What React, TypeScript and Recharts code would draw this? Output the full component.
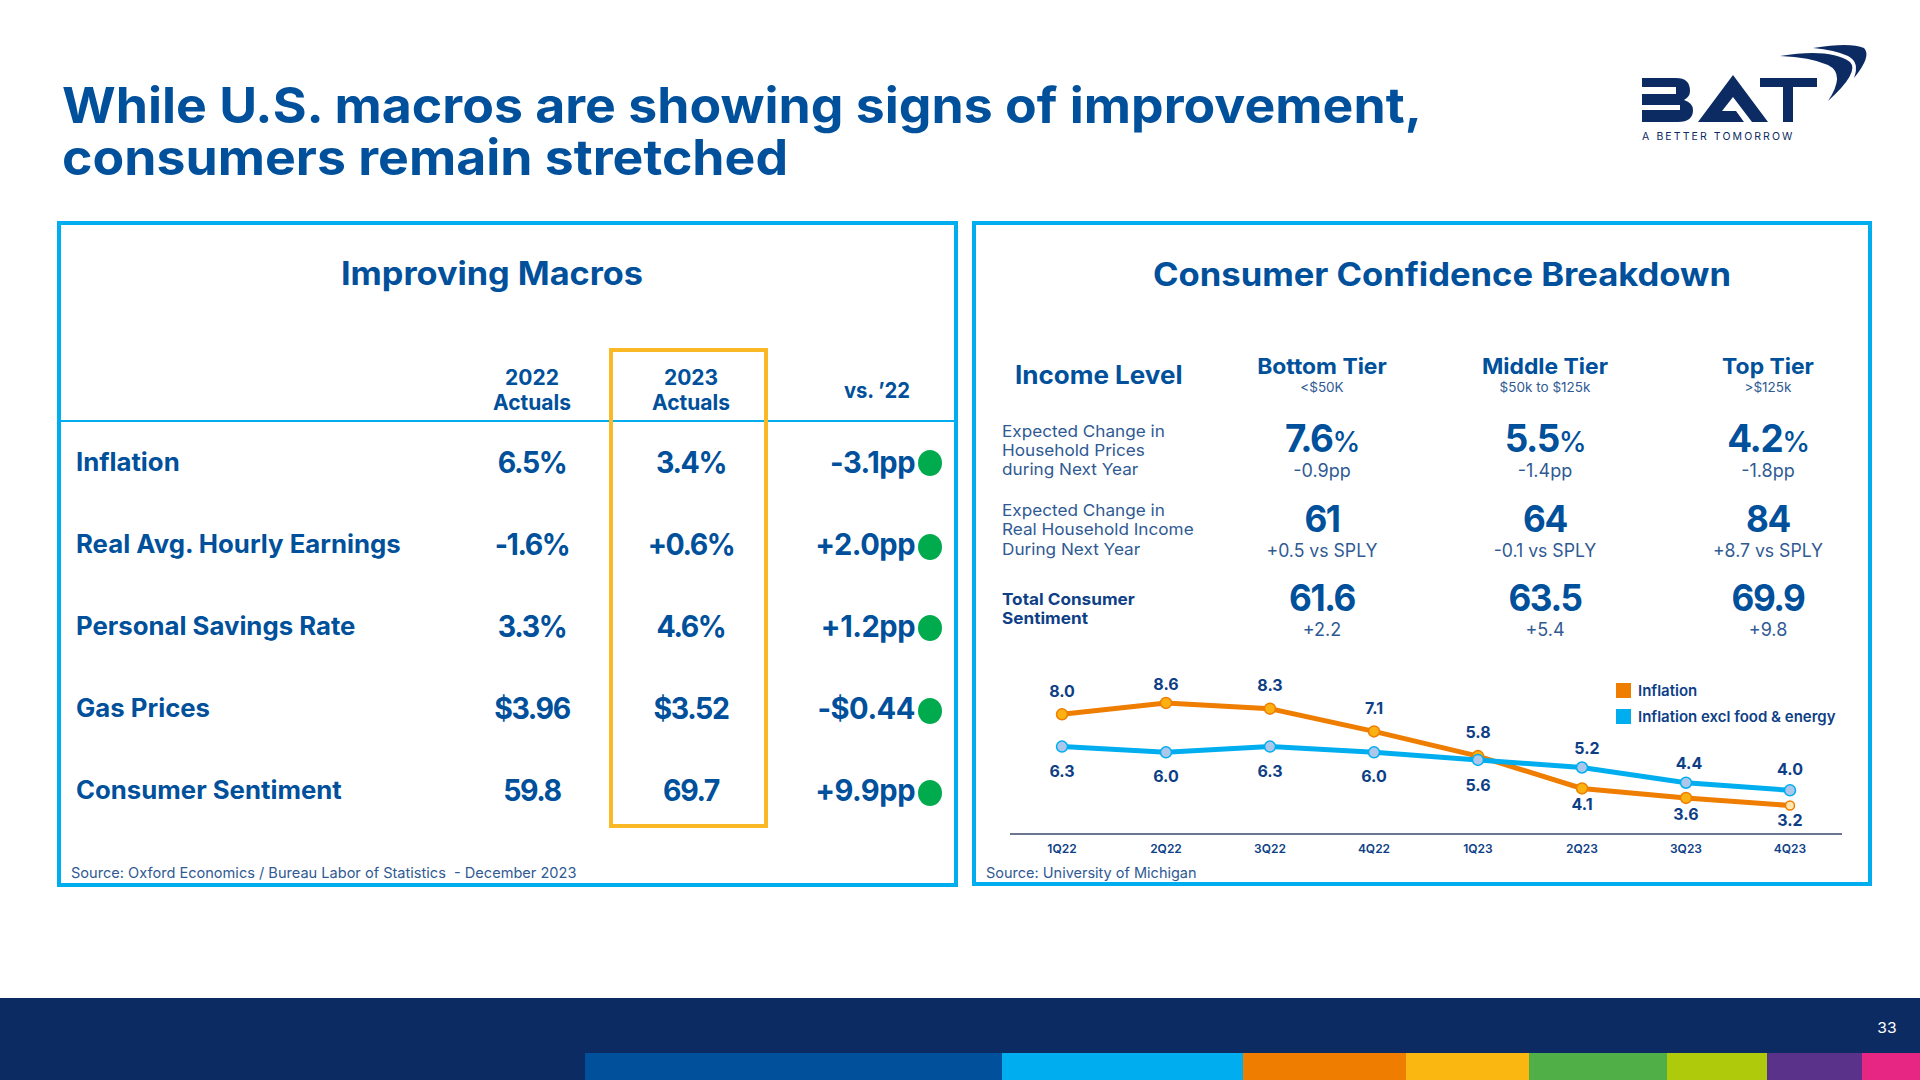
import React from "react";
import { LineChart, Line, XAxis, YAxis, LabelList, Legend } from "recharts";

const quarters = ["1Q22", "2Q22", "3Q22", "4Q22", "1Q23", "2Q23", "3Q23", "4Q23"];
const inflation = [8.0, 8.6, 8.3, 7.1, 5.8, 4.1, 3.6, 3.2];
const inflationCore = [6.3, 6.0, 6.3, 6.0, 5.6, 5.2, 4.4, 4.0];

const macroNames = ["Inflation", "Real Avg. Hourly Earnings", "Personal Savings Rate", "Gas Prices", "Consumer Sentiment"];
const actuals2022 = ["6.5%", "-1.6%", "3.3%", "$3.96", "59.8"];
const actuals2023 = ["3.4%", "+0.6%", "4.6%", "$3.52", "69.7"];
const versus = ["-3.1pp", "+2.0pp", "+1.2pp", "-$0.44", "+9.9pp"];

const tierNames = ["Bottom Tier", "Middle Tier", "Top Tier"];
const tierRanges = ["<$50K", "$50k to $125k", ">$125k"];
const priceExpect = ["7.6", "5.5", "4.2"];
const priceDelta = ["-0.9pp", "-1.4pp", "-1.8pp"];
const incomeExpect = ["61", "64", "84"];
const incomeDelta = ["+0.5 vs SPLY", "-0.1 vs SPLY", "+8.7 vs SPLY"];
const sentiment = ["61.6", "63.5", "69.9"];
const sentimentDelta = ["+2.2", "+5.4", "+9.8"];

const stripeColors = ["#00509B", "#00AEEF", "#EF7D00", "#FAB611", "#50AF47", "#AFCA0B", "#5A328A", "#E72582"];
const stripeEdges = [585, 1002, 1243, 1406, 1529, 1667, 1767, 1862, 1920];

const chartData = quarters.map((q, i) => ({ q, inflation: inflation[i], core: inflationCore[i] }));

const BLUE = "#00509B";
const NAVY = "#0D2B63";
const CYAN = "#00AEEF";
const ORANGE = "#EF7D00";
const SOFT = "#2F5A93";
const FONT = "Inter, 'Noto Sans', sans-serif";

type TProps = { x: number; y: number; s: number; w?: number; a?: "l" | "c" | "r"; c?: string; k?: number; ls?: number; children: React.ReactNode };
function T({ x, y, s, w = 700, a = "c", c = BLUE, k = 1.04, ls = 0, children }: TProps) {
  const tx = a === "l" ? "0" : a === "c" ? "-50%" : "-100%";
  const origin = a === "l" ? "left" : a === "c" ? "center" : "right";
  return (
    <div
      style={{
        position: "absolute",
        left: x,
        top: y,
        fontFamily: FONT,
        fontSize: s,
        fontWeight: w,
        color: c,
        lineHeight: 1,
        letterSpacing: ls,
        whiteSpace: "pre",
        transform: `translate(${tx}, -50%) scaleX(${k})`,
        transformOrigin: origin,
      }}
    >
      {children}
    </div>
  );
}

function Box({ x, y, w, h, b = 4, c = CYAN }: { x: number; y: number; w: number; h: number; b?: number; c?: string }) {
  return <div style={{ position: "absolute", left: x, top: y, width: w, height: h, boxSizing: "border-box", border: `${b}px solid ${c}` }} />;
}

const labelOffsets = {
  inflation: [-23, -19, -24, -23, -24, 16, 16, 14],
  core: [24, 24, 24, 24, 25, -20, -20, -21],
};
const labelShift = {
  inflation: [0, 0, 0, 0, 0, 0, 0, 0],
  core: [0, 0, 0, 0, 0, 5, 3, 0],
};

function makeLabel(series: "inflation" | "core") {
  return (props: any) => {
    const { x, y, value, index } = props;
    return (
      <text
        x={x + labelShift[series][index]}
        y={y + labelOffsets[series][index]}
        textAnchor="middle"
        dominantBaseline="central"
        fontFamily={FONT}
        fontSize={16}
        fontWeight={700}
        fill="#0E3F86"
      >
        {Number(value).toFixed(1)}
      </text>
    );
  };
}

function orangeDot(props: any) {
  const { cx, cy, index } = props;
  const last = index === quarters.length - 1;
  return <circle key={index} cx={cx} cy={cy} r={last ? 4.5 : 5.5} fill={last ? "#FFE6B0" : "#FBB111"} stroke={ORANGE} strokeWidth={1.5} />;
}
function blueDot(props: any) {
  const { cx, cy, index } = props;
  return <circle key={index} cx={cx} cy={cy} r={5.5} fill="#ABC8EC" stroke={CYAN} strokeWidth={1.5} />;
}

function LegendContent() {
  const items = [
    { label: "Inflation", color: ORANGE },
    { label: "Inflation excl food & energy", color: CYAN },
  ];
  return (
    <div>
      {items.map((it) => (
        <div key={it.label} style={{ display: "flex", alignItems: "center", height: 26 }}>
          <span style={{ display: "inline-block", width: 15, height: 15, background: it.color, marginRight: 7 }} />
          <span style={{ fontFamily: FONT, fontSize: 15, fontWeight: 600, color: "#0E3F86", whiteSpace: "nowrap" }}>{it.label}</span>
        </div>
      ))}
    </div>
  );
}

function Chart() {
  return (
    <div style={{ position: "absolute", left: 1000, top: 650, width: 860, height: 215 }}>
      <LineChart width={860} height={215} data={chartData} margin={{ top: 10, right: 18, bottom: 0, left: 10 }}>
        <XAxis
          dataKey="q"
          height={31}
          padding={{ left: 52, right: 52 }}
          tickLine={false}
          tickSize={0}
          tickMargin={10}
          axisLine={{ stroke: "#3A4A6B", strokeWidth: 1.5 }}
          tick={{ fontFamily: FONT, fontSize: 12, fontWeight: 600, fill: "#0E3F86" }}
        />
        <YAxis hide domain={[1.7, 10.86]} />
        <Legend
          layout="vertical"
          align="center"
          verticalAlign="middle"
          content={<LegendContent />}
          wrapperStyle={{ position: "absolute", left: 616, top: 27, width: 240 }}
        />
        <Line dataKey="inflation" stroke={ORANGE} strokeWidth={5} dot={orangeDot} isAnimationActive={false}>
          <LabelList dataKey="inflation" content={makeLabel("inflation")} />
        </Line>
        <Line dataKey="core" stroke={CYAN} strokeWidth={5} dot={blueDot} isAnimationActive={false}>
          <LabelList dataKey="core" content={makeLabel("core")} />
        </Line>
      </LineChart>
    </div>
  );
}

function Logo() {
  return (
    <>
      <svg width={1920} height={1080} style={{ position: "absolute", left: 0, top: 0 }}>
        <path d="M1642 78 H1676 Q1690 78 1690 91 Q1690 97 1684 100 Q1693 103 1693 110 Q1693 122 1678 122 H1642 V110 H1680 V105 H1642 V94 H1676 V87 H1642 Z" fill={NAVY} />
        <path d="M1698 122 L1733 75 L1768 122 H1752 L1733 97 L1722 111 H1736 L1744 122 Z" fill={NAVY} />
        <path d="M1760 78 H1817 V87 H1793 V122 H1783 V87 H1760 Z" fill={NAVY} />
        <path d="M1780 56 Q1830 48 1850 62 Q1860 72 1828 101 Q1846 74 1828 65 Q1810 57 1780 56 Z" fill={NAVY} />
        <path d="M1813 48 Q1850 42 1864 48 Q1872 56 1854 78 Q1860 62 1848 56 Q1835 50 1813 48 Z" fill={NAVY} />
      </svg>
      <div style={{ position: "absolute", left: 1642, top: 130, fontFamily: FONT, fontSize: 10.5, fontWeight: 400, letterSpacing: 2.1, color: NAVY, whiteSpace: "pre", lineHeight: "14px" }}>
        A BETTER TOMORROW
      </div>
    </>
  );
}

const rowY = [462, 544, 626, 708, 790];
const dotY = [463, 547, 628, 711, 793];
const tierX = [1322, 1545, 1768];

function Left() {
  return (
    <>
      <Box x={57} y={221} w={901} h={666} />
      <T x={492} y={274} s={32} k={1.07}>Improving Macros</T>
      <div style={{ position: "absolute", left: 60, top: 420, width: 895, height: 2, background: CYAN }} />
      <Box x={609} y={348} w={159} h={480} c="#FAB826" />
      <T x={532} y={377} s={21} k={1}>2022</T>
      <T x={532} y={402} s={21} k={1}>Actuals</T>
      <T x={691} y={377} s={21} k={1}>2023</T>
      <T x={691} y={402} s={21} k={1}>Actuals</T>
      <T x={877} y={390} s={22} k={0.92}>vs. ’22</T>
      {macroNames.map((n, i) => (
        <React.Fragment key={n}>
          <T x={76} y={rowY[i]} s={25} a="l" k={1.03}>{n}</T>
          <T x={532} y={rowY[i]} s={30} k={0.95} ls={-1.5}>{actuals2022[i]}</T>
          <T x={691} y={rowY[i]} s={30} k={0.95} ls={-1.5}>{actuals2023[i]}</T>
          <T x={915} y={rowY[i]} s={30} a="r" k={0.97} ls={-0.5}>{versus[i]}</T>
          <div style={{ position: "absolute", left: 917.5, top: dotY[i] - 13, width: 24, height: 26, borderRadius: "50%", background: "#00AB4E" }} />
        </React.Fragment>
      ))}
      <T x={71} y={873} s={14.5} w={400} a="l" c={SOFT} k={1.005}>Source: Oxford Economics / Bureau Labor of Statistics  - December 2023</T>
    </>
  );
}

function Right() {
  const labels: [string, number, number][] = [
    ["Expected Change in", 431, 400],
    ["Household Prices", 450, 400],
    ["during Next Year", 469, 400],
    ["Expected Change in", 510, 400],
    ["Real Household Income", 529, 400],
    ["During Next Year", 549, 400],
    ["Total Consumer", 599, 700],
    ["Sentiment", 618, 700],
  ];
  return (
    <>
      <Box x={972} y={221} w={900} h={665} />
      <T x={1442} y={275} s={32} k={1.08}>Consumer Confidence Breakdown</T>
      <T x={1015} y={375} s={25} a="l">Income Level</T>
      {labels.map(([t, y, w], i) => (
        <T key={i} x={1002} y={y} s={16.5} w={w} a="l" c={w === 700 ? "#0E3F86" : SOFT}>{t}</T>
      ))}
      {tierNames.map((n, i) => (
        <React.Fragment key={n}>
          <T x={tierX[i]} y={366} s={22} k={1.04}>{n}</T>
          <T x={tierX[i]} y={388} s={13.5} w={400} c={SOFT} k={1}>{tierRanges[i]}</T>
          <T x={tierX[i]} y={438} s={38} k={0.97} ls={-1.5}>
            {priceExpect[i]}
            <span style={{ fontSize: 29, fontWeight: 500 }}>%</span>
          </T>
          <T x={tierX[i]} y={471} s={18} w={400} c={SOFT} k={1}>{priceDelta[i]}</T>
          <T x={tierX[i]} y={518} s={37} k={0.95} ls={-1.5}>{incomeExpect[i]}</T>
          <T x={tierX[i]} y={551} s={18} w={400} c={SOFT} k={0.98}>{incomeDelta[i]}</T>
          <T x={tierX[i]} y={597} s={37} k={0.95} ls={-1.5}>{sentiment[i]}</T>
          <T x={tierX[i]} y={630} s={18} w={400} c={SOFT} k={1}>{sentimentDelta[i]}</T>
        </React.Fragment>
      ))}
      <T x={986} y={873} s={14.5} w={400} a="l" c={SOFT} k={1}>Source: University of Michigan</T>
    </>
  );
}

export default function App() {
  return (
    <div style={{ position: "absolute", left: 0, top: 0, width: 1920, height: 1080, background: "#fff", overflow: "hidden" }}>
      <T x={62} y={105} s={49} a="l" k={1.057}>While U.S. macros are showing signs of improvement,</T>
      <T x={62} y={157} s={49} a="l" k={1.057}>consumers remain stretched</T>
      <Logo />
      <Left />
      <Right />
      <Chart />
      <div style={{ position: "absolute", left: 0, top: 998, width: 1920, height: 82, background: NAVY }} />
      {stripeColors.map((c, i) => (
        <div
          key={c}
          style={{
            position: "absolute",
            left: stripeEdges[i],
            top: 1053,
            width: stripeEdges[i + 1] - stripeEdges[i],
            height: 27,
            background: c,
          }}
        />
      ))}
      <T x={1887} y={1027} s={15} w={400} c="#fff">33</T>
    </div>
  );
}
